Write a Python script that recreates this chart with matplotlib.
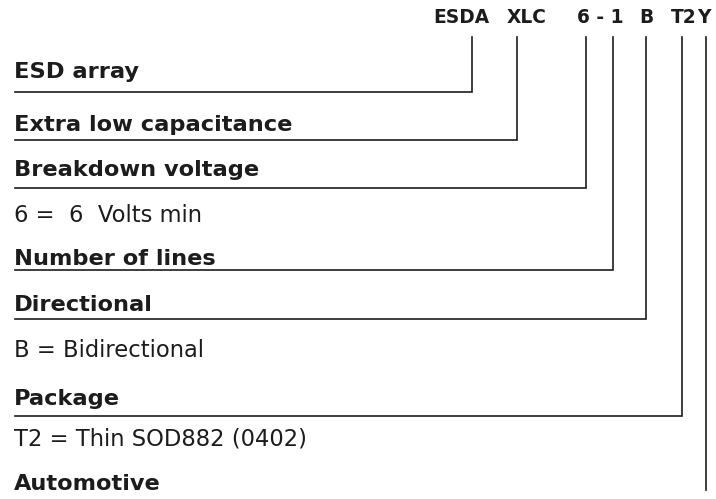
import matplotlib
matplotlib.use("Agg")
import matplotlib.pyplot as plt

plt.rcParams['font.family'] = ['DejaVu Sans']

# Code segments at top
code_parts = ["ESDA", "XLC", "6 - 1", "B", "T2", "Y"]
# Labels (text, bold)
labels = [
    ("ESD array", True),
    ("Extra low capacitance", True),
    ("Breakdown voltage", True),
    ("6 =  6  Volts min", False),
    ("Number of lines", True),
    ("Directional", True),
    ("B = Bidirectional", False),
    ("Package", True),
    ("T2 = Thin SOD882 (0402)", False),
    ("Automotive", True),
]

W, H = 716, 499
fig = plt.figure(figsize=(W / 100, H / 100), dpi=100)
ax = fig.add_axes([0, 0, 1, 1])
ax.set_xlim(0, W)
ax.set_ylim(H, 0)
ax.axis('off')

col = '#1c1c1c'
# top code text
code_x = [433, 507, 577, 639, 671, 697]
for t, x in zip(code_parts, code_x):
    ax.text(x, 22.5, t, fontsize=13.4, fontweight='bold', color=col,
            va='baseline', ha='left')

# label baselines
label_base = [78, 131, 176, 222, 265, 311, 357, 405, 445, 490]
for (t, b), y in zip(labels, label_base):
    ax.text(14, y, t, fontsize=16.2 if b else 16.3,
            fontweight='bold' if b else 'normal',
            color=col, va='baseline', ha='left')

# connector lines: (vertical x, horizontal y)
line_x = [472, 517, 586, 613, 646, 682]
line_y = [92, 140, 188, 270, 319, 416]
top = 37
lw = 1.2
for x, y in zip(line_x, line_y):
    ax.plot([15, x, x], [y, y, top], color=col, lw=lw, solid_joinstyle='miter')
ax.plot([706, 706], [top, 490], color=col, lw=lw)

fig.savefig('out.png', dpi=100)
